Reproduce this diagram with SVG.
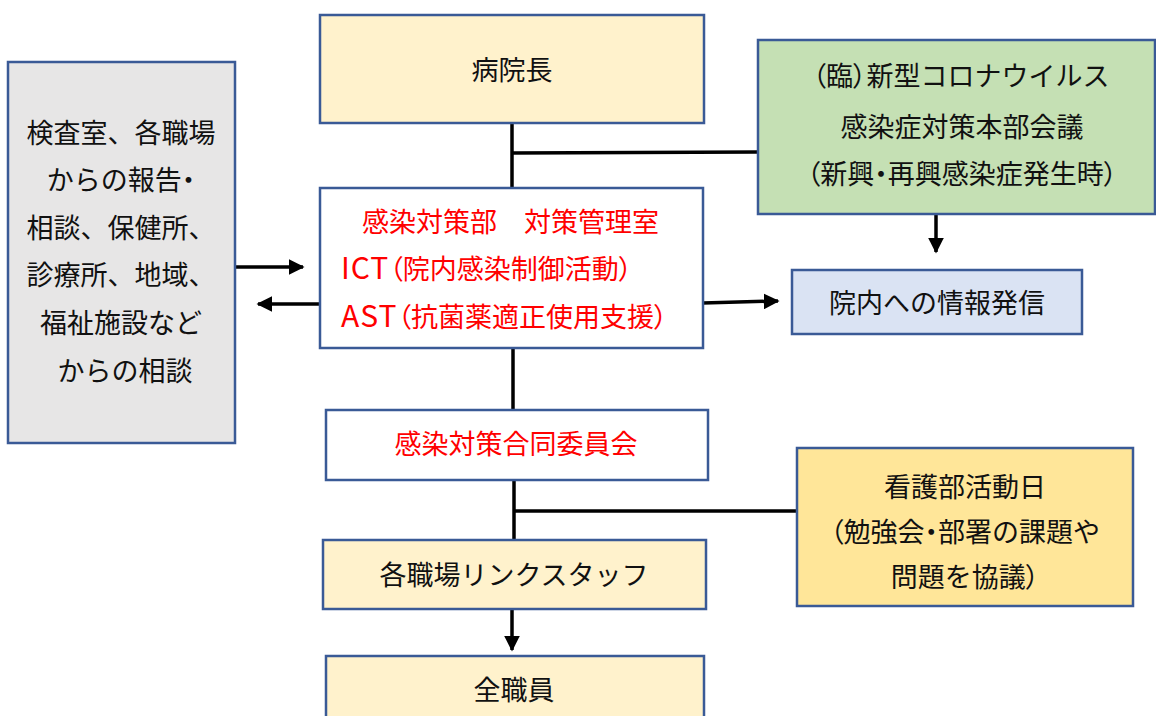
<svg xmlns="http://www.w3.org/2000/svg" width="1156" height="716" viewBox="0 0 1156 716">
<style>
.box{stroke:#3a5a96;stroke-width:2.5}
.t{font-family:"Noto Sans CJK JP","Noto Sans CJK SC",sans-serif;font-size:27px;fill:#111;text-anchor:middle}
.r{fill:#ff0000}
.s{text-anchor:start}
.p{font-feature-settings:"palt"}
.l{font-size:30px;letter-spacing:1px}
.c{stroke:#000;stroke-width:3.5;fill:none}
</style>
<defs>
<marker id="ah" viewBox="0 0 10 10" refX="9" refY="5" markerWidth="4.5" markerHeight="4.5" orient="auto" markerUnits="strokeWidth">
<path d="M0,0 L10,5 L0,10 z" fill="#000"/>
</marker>
</defs>
<rect width="1156" height="716" fill="#fff"/>
<g id="connectors">
<path class="c" d="M512,123 V188"/>
<path class="c" d="M512,153 L758,152"/>
<path class="c" d="M936,214 V252" marker-end="url(#ah)"/>
<path class="c" d="M235,267 H303" marker-end="url(#ah)"/>
<path class="c" d="M320,304 H258" marker-end="url(#ah)"/>
<path class="c" d="M703,303 L778,301" marker-end="url(#ah)"/>
<path class="c" d="M513,348 V410"/>
<path class="c" d="M514,480 V540"/>
<path class="c" d="M514,511 H797"/>
<path class="c" d="M512,609 V650" marker-end="url(#ah)"/>
</g>
<g id="n-director">
<rect class="box" x="320" y="15" width="384" height="108" fill="#fff2cc"/>
<text class="t" x="512" y="80">病院長</text>
</g>
<g id="n-left">
<rect class="box" x="8" y="62" width="227" height="381" fill="#e7e6e6"/>
<text class="t" x="121" y="143">検査室、各職場</text>
<text class="t" x="121" y="190">からの報告<tspan class="p">・</tspan></text>
<text class="t" x="121" y="238">相談、保健所、</text>
<text class="t" x="121" y="285">診療所、地域、</text>
<text class="t" x="121" y="333">福祉施設など</text>
<text class="t" x="125" y="381">からの相談</text>
</g>
<g id="n-green">
<rect class="box" x="758" y="40" width="397" height="174" fill="#c5e0b4"/>
<text class="t" x="961" y="86"><tspan class="p">（</tspan>臨<tspan class="p">）</tspan>新型コロナウイルス</text>
<text class="t" x="962" y="137">感染症対策本部会議</text>
<text class="t" x="962" y="184"><tspan class="p">（</tspan>新興<tspan class="p">・</tspan>再興感染症発生時<tspan class="p">）</tspan></text>
</g>
<g id="n-main">
<rect class="box" x="320" y="188" width="383" height="160" fill="#fff"/>
<text class="t r s" x="362" y="232">感染対策部　対策管理室</text>
<text class="t r s" x="341" y="279"><tspan class="l">ICT</tspan><tspan class="p">（</tspan>院内感染制御活動<tspan class="p">）</tspan></text>
<text class="t r s" x="341" y="327"><tspan class="l">AST</tspan><tspan class="p">（</tspan>抗菌薬適正使用支援<tspan class="p">）</tspan></text>
</g>
<g id="n-info">
<rect class="box" x="792" y="270" width="290" height="64" fill="#dae3f3"/>
<text class="t" x="937" y="313">院内への情報発信</text>
</g>
<g id="n-committee">
<rect class="box" x="326" y="410" width="382" height="70" fill="#fff"/>
<text class="t r" x="516" y="454">感染対策合同委員会</text>
</g>
<g id="n-nursing">
<rect class="box" x="797" y="448" width="336" height="158" fill="#ffe699"/>
<text class="t" x="965" y="497">看護部活動日</text>
<text class="t" x="965" y="542"><tspan class="p">（</tspan>勉強会<tspan class="p">・</tspan>部署の課題や</text>
<text class="t" x="965" y="587">問題を協議<tspan class="p">）</tspan></text>
</g>
<g id="n-link">
<rect class="box" x="323" y="540" width="383" height="69" fill="#fff2cc"/>
<text class="t" x="514" y="585">各職場リンクスタッフ</text>
</g>
<g id="n-all">
<rect class="box" x="326" y="656" width="378" height="70" fill="#fff2cc"/>
<text class="t" x="514" y="700">全職員</text>
</g>
</svg>
